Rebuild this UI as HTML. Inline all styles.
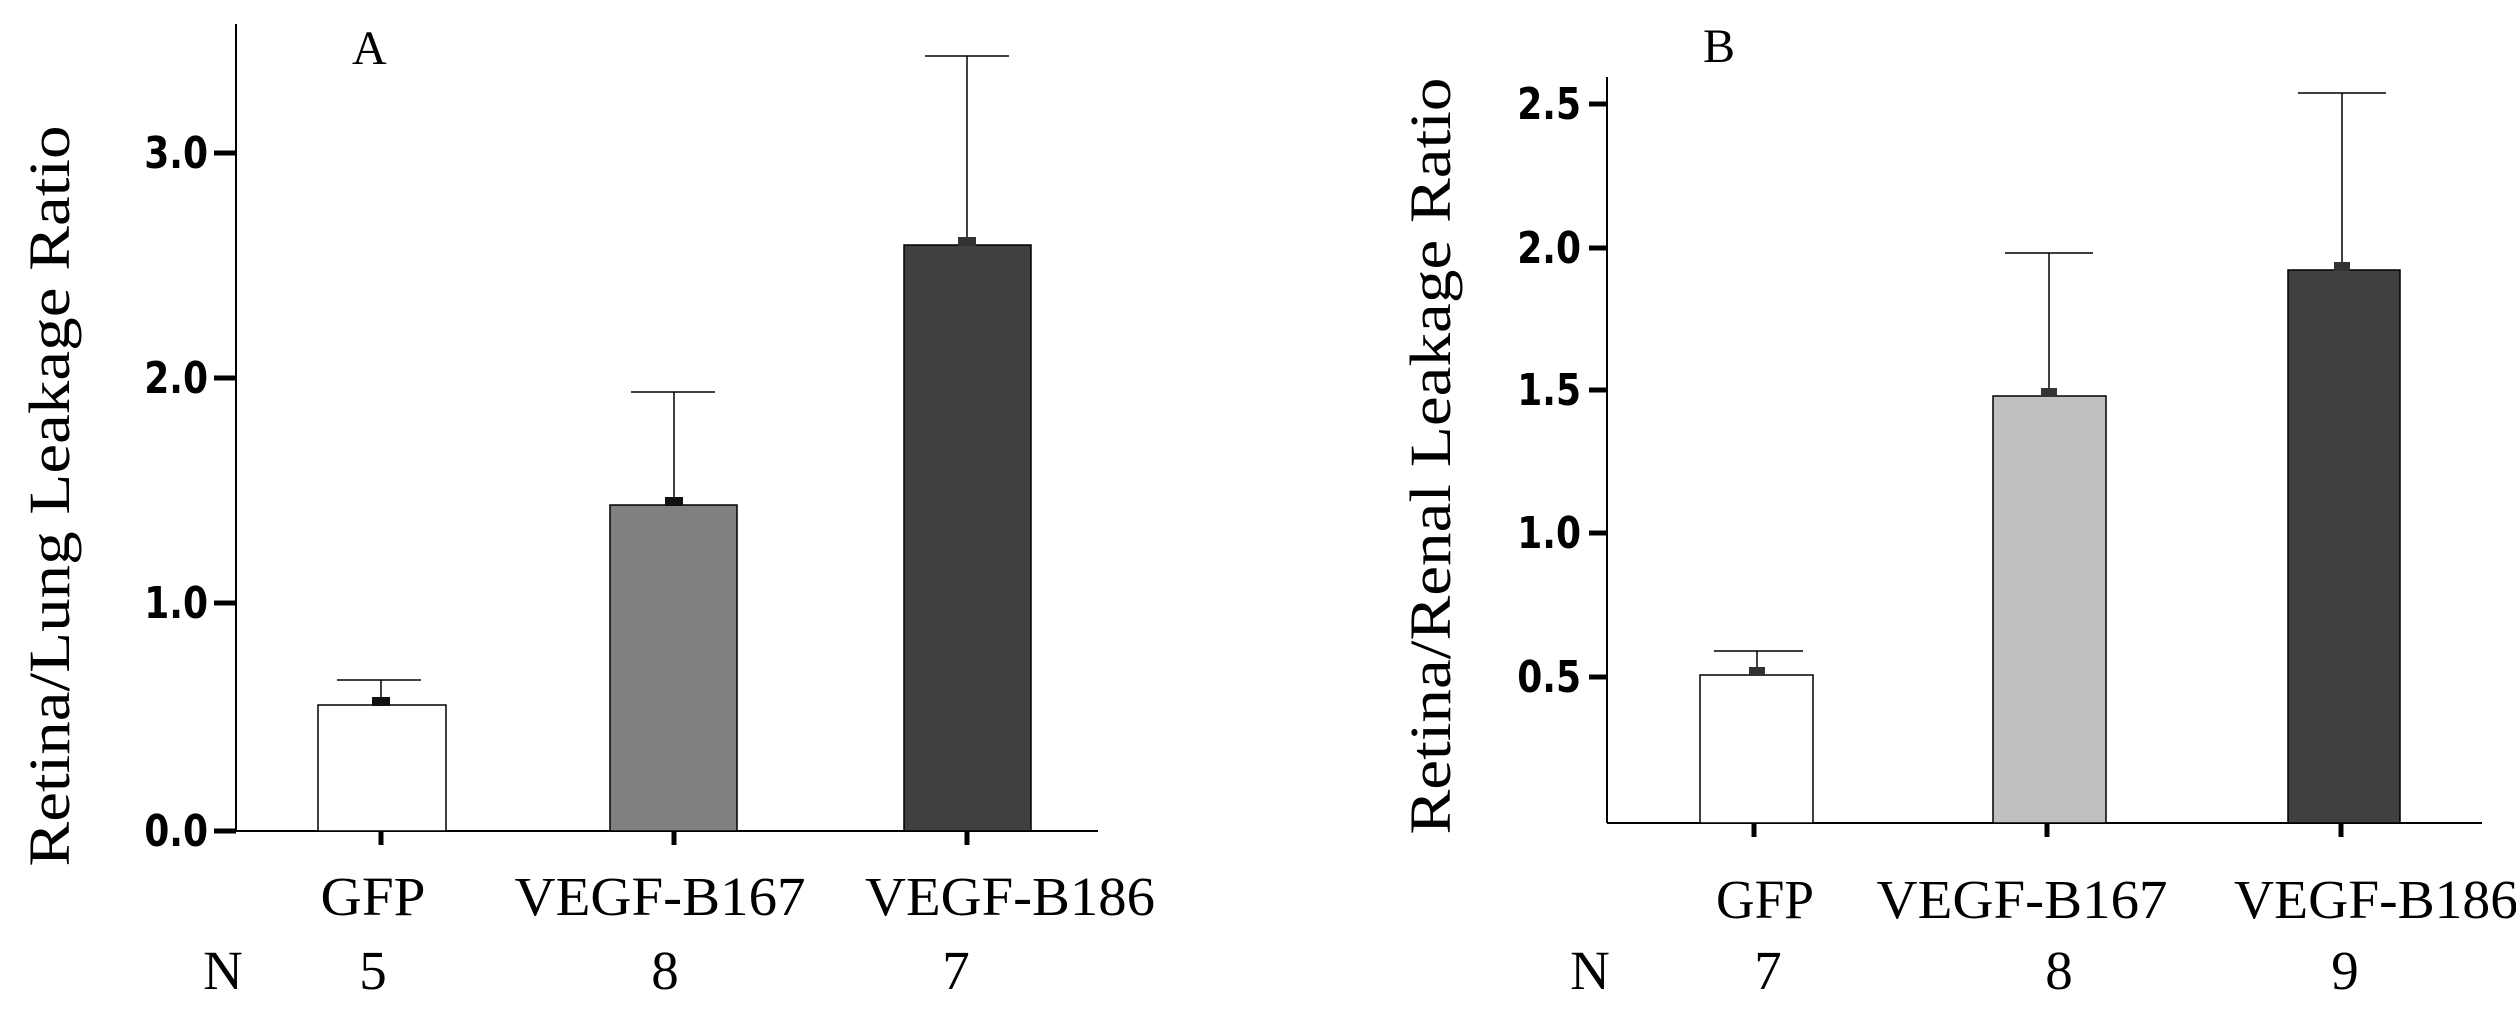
<!DOCTYPE html>
<html><head><meta charset="utf-8"><style>
html,body{margin:0;padding:0;background:#fff}
svg{display:block}
.t{font-family:"DejaVu Sans","Liberation Sans",sans-serif;font-weight:bold;font-size:36px;fill:#000}
.s{font-family:"Liberation Serif","Times New Roman",serif;fill:#000}
</style></head><body>
<svg width="2516" height="1011" viewBox="0 0 2516 1011" xmlns="http://www.w3.org/2000/svg">
<!-- Panel A -->
<g stroke="#000" fill="none">
<line x1="236" y1="24" x2="236" y2="831" stroke-width="2"/>
<line x1="236" y1="831" x2="1098" y2="831" stroke-width="2"/>
<g stroke-width="5"><line x1="214" y1="153" x2="236" y2="153"/><line x1="214" y1="378" x2="236" y2="378"/><line x1="214" y1="603" x2="236" y2="603"/><line x1="214" y1="831" x2="236" y2="831"/>
<line x1="381" y1="831" x2="381" y2="845"/><line x1="674" y1="831" x2="674" y2="845"/><line x1="967" y1="831" x2="967" y2="845"/></g>
</g>
<g class="t" text-anchor="end">
<text transform="translate(208,168) scale(1,1.2)">3.0</text>
<text transform="translate(208,393) scale(1,1.2)">2.0</text>
<text transform="translate(208,618) scale(1,1.2)">1.0</text>
<text transform="translate(208,846) scale(1,1.2)">0.0</text>
</g>
<text class="s" font-size="58" transform="translate(69,496) rotate(-90)" text-anchor="middle" textLength="741" lengthAdjust="spacingAndGlyphs">Retina/Lung Leakage Ratio</text>
<text class="s" font-size="48" x="352" y="64">A</text>
<g stroke="#000" stroke-width="1.5">
<line x1="381" y1="705" x2="381" y2="680"/><line x1="337" y1="680" x2="421" y2="680"/>
<line x1="674" y1="505" x2="674" y2="392"/><line x1="631" y1="392" x2="715" y2="392"/>
<line x1="967" y1="245" x2="967" y2="56"/><line x1="925" y1="56" x2="1009" y2="56"/>
<rect x="318" y="705" width="128" height="126" fill="#fff"/>
<rect x="610" y="505" width="127" height="326" fill="#808080"/>
<rect x="904" y="245" width="127" height="586" fill="#404040"/>
</g>
<rect x="372" y="697" width="18" height="9" fill="#111"/>
<rect x="665" y="497" width="18" height="9" fill="#111"/>
<rect x="958" y="237" width="18" height="9" fill="#333"/>
<g class="s" font-size="55" text-anchor="middle">
<text x="373" y="915" textLength="105" lengthAdjust="spacingAndGlyphs">GFP</text><text x="660" y="915" textLength="291" lengthAdjust="spacingAndGlyphs">VEGF-B167</text><text x="1010" y="915" textLength="290" lengthAdjust="spacingAndGlyphs">VEGF-B186</text>
<text x="223" y="989">N</text><text x="373" y="989">5</text><text x="665" y="989">8</text><text x="956" y="989">7</text>
</g>
<!-- Panel B -->
<g stroke="#000" fill="none">
<line x1="1607" y1="77" x2="1607" y2="823" stroke-width="2"/>
<line x1="1607" y1="823" x2="2482" y2="823" stroke-width="2"/>
<g stroke-width="5"><line x1="1589" y1="104" x2="1607" y2="104"/><line x1="1589" y1="248" x2="1607" y2="248"/><line x1="1589" y1="390" x2="1607" y2="390"/><line x1="1589" y1="533" x2="1607" y2="533"/><line x1="1589" y1="677" x2="1607" y2="677"/>
<line x1="1754" y1="823" x2="1754" y2="837"/><line x1="2047" y1="823" x2="2047" y2="837"/><line x1="2341" y1="823" x2="2341" y2="837"/></g>
</g>
<g class="t" text-anchor="end" font-size="34">
<text transform="translate(1581,119) scale(1,1.2)">2.5</text>
<text transform="translate(1581,263) scale(1,1.2)">2.0</text>
<text transform="translate(1581,405) scale(1,1.2)">1.5</text>
<text transform="translate(1581,548) scale(1,1.2)">1.0</text>
<text transform="translate(1581,692) scale(1,1.2)">0.5</text>
</g>
<text class="s" font-size="58" transform="translate(1450,456) rotate(-90)" text-anchor="middle" textLength="757" lengthAdjust="spacingAndGlyphs">Retina/Renal Leakage Ratio</text>
<text class="s" font-size="48" x="1703" y="62">B</text>
<g stroke="#000" stroke-width="1.5">
<line x1="1757" y1="675" x2="1757" y2="651"/><line x1="1714" y1="651" x2="1803" y2="651"/>
<line x1="2049" y1="396" x2="2049" y2="253"/><line x1="2005" y1="253" x2="2093" y2="253"/>
<line x1="2342" y1="270" x2="2342" y2="93"/><line x1="2298" y1="93" x2="2386" y2="93"/>
<rect x="1700" y="675" width="113" height="148" fill="#fff"/>
<rect x="1993" y="396" width="113" height="427" fill="#c0c0c0"/>
<rect x="2288" y="270" width="112" height="553" fill="#404040"/>
</g>
<rect x="1749" y="667" width="16" height="9" fill="#333"/>
<rect x="2041" y="388" width="16" height="9" fill="#333"/>
<rect x="2334" y="262" width="16" height="9" fill="#333"/>
<g class="s" font-size="55" text-anchor="middle">
<text x="1765" y="918" textLength="98" lengthAdjust="spacingAndGlyphs">GFP</text><text x="2022" y="918" textLength="291" lengthAdjust="spacingAndGlyphs">VEGF-B167</text><text x="2376" y="918" textLength="284" lengthAdjust="spacingAndGlyphs">VEGF-B186</text>
<text x="1590" y="989">N</text><text x="1768" y="989">7</text><text x="2059" y="989">8</text><text x="2345" y="989">9</text>
</g>
</svg>
</body></html>
